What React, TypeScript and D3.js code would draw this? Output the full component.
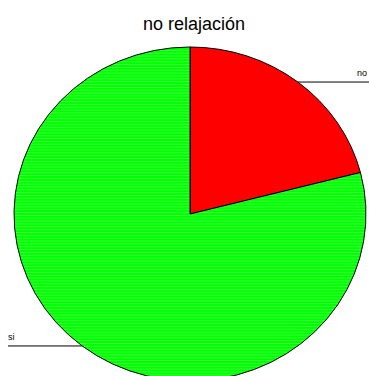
import * as d3 from "d3";
import { useEffect, useRef } from "react";

const categories = ["no", "si"];
const values = [21, 79];
const colors = ["#ff0000", "#00ff00"];
const title = "no relajación";

export default function App() {
  const svgRef = useRef<SVGSVGElement | null>(null);

  useEffect(() => {
    if (!svgRef.current) return;
    const width = 369;
    const height = 376;
    const cx = 190;
    const cy = 214;
    const rx = 176;
    const ry = 167;

    const svg = d3.select(svgRef.current);
    svg.selectAll("*").remove();
    svg.attr("width", width).attr("height", height);

    const defs = svg.append("defs");
    const hatch = defs
      .append("pattern")
      .attr("id", "hatch-green")
      .attr("patternUnits", "userSpaceOnUse")
      .attr("width", 8)
      .attr("height", 3);
    hatch.append("rect").attr("width", 8).attr("height", 3).attr("fill", "#00ff00");
    hatch.append("rect").attr("y", 1).attr("width", 8).attr("height", 1).attr("fill", "#3cff3c");

    const data = categories.map((c, i) => ({ label: c, value: values[i], color: colors[i] }));

    const pie = d3
      .pie<any>()
      .sort(null)
      .value((d: any) => d.value)
      .startAngle(0)
      .endAngle(2 * Math.PI);
    const arcs = pie(data);

    const arc = d3.arc<any>().innerRadius(0).outerRadius(rx);

    const g = svg
      .append("g")
      .attr("transform", `translate(${cx},${cy}) scale(1,${ry / rx})`);

    g.selectAll("path.slice")
      .data(arcs)
      .join("path")
      .attr("class", "slice")
      .attr("d", arc as any)
      .attr("fill", (d: any) => (d.data.label === "si" ? "url(#hatch-green)" : d.data.color))
      .attr("stroke", "#000")
      .attr("stroke-width", 1)
      .attr("vector-effect", "non-scaling-stroke");

    // label leaders
    arcs.forEach((a: any) => {
      const mid = (a.startAngle + a.endAngle) / 2;
      const px = cx + rx * Math.sin(mid);
      const py = cy - ry * Math.cos(mid);
      const right = Math.sin(mid) >= 0;
      const endX = right ? width : 8;
      svg
        .append("line")
        .attr("x1", px)
        .attr("y1", py)
        .attr("x2", endX)
        .attr("y2", py)
        .attr("stroke", "#000")
        .attr("stroke-width", 1);
      svg
        .append("text")
        .attr("x", right ? 357 : 8)
        .attr("y", py - 6)
        .attr("font-family", "Liberation Sans, Arial, sans-serif")
        .attr("font-size", 9)
        .attr("fill", "#000")
        .text(a.data.label);
    });

    svg
      .append("text")
      .attr("x", 194)
      .attr("y", 30)
      .attr("text-anchor", "middle")
      .attr("font-family", "Liberation Sans, Arial, sans-serif")
      .attr("font-size", 18)
      .attr("fill", "#000")
      .text(title);
  }, []);

  return (
    <svg
      ref={svgRef}
      style={{ position: "absolute", left: 0, top: 0, background: "#fff" }}
    />
  );
}
